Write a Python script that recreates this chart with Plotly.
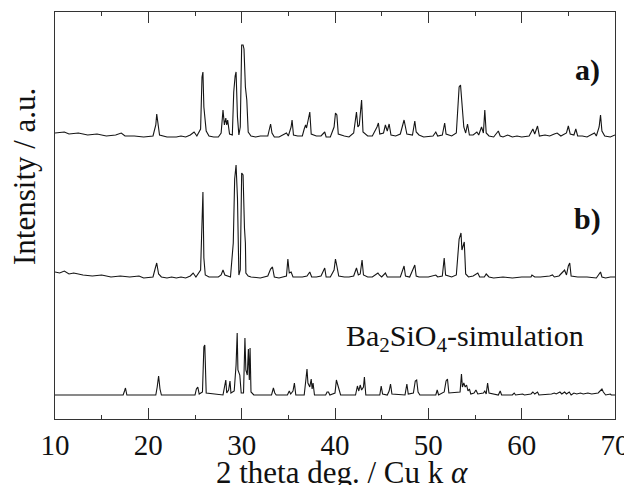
import plotly.graph_objects as go

# ---- data (2-theta in degrees, intensity in a.u.) ----
a_x = [10.0, 11.0, 11.5, 12.5, 13.5, 14.5, 15.5, 16.5, 17.1, 17.5, 18.5, 19.5, 20.5, 20.8, 20.9, 21.0, 21.2, 22.0,
       23.0, 23.5, 24.0, 24.5, 24.9, 25.2, 25.6, 25.75, 25.85, 25.95, 26.2, 26.5, 27.0, 27.5, 27.8, 28.0, 28.15,
       28.3, 28.4, 28.5, 28.7, 29.0, 29.15, 29.3, 29.4, 29.55, 29.7, 29.85, 30.0, 30.15, 30.25, 30.4, 30.55, 30.7,
       31.0, 31.5, 32.0, 32.8, 33.0, 33.1, 33.25, 33.5, 34.0, 34.5, 34.8, 35.0, 35.3, 35.4, 35.55, 36.0, 36.5,
       36.7, 36.85, 36.95, 37.1, 37.3, 37.45, 38.0, 38.5, 38.9, 39.05, 39.5, 39.9, 40.05, 40.2, 40.35, 41.0, 41.5,
       42.0, 42.3, 42.45, 42.6, 42.85, 43.0, 43.5, 44.0, 44.5, 44.65, 44.8, 45.2, 45.4, 45.6, 45.8, 46.0, 46.5,
       47.0, 47.4, 47.55, 47.7, 48.3, 48.55, 48.7, 49.0, 49.5, 50.5, 50.8, 51.0, 51.5, 51.75, 51.9, 52.5, 53.0,
       53.3, 53.45, 53.6, 53.8, 54.0, 54.2, 54.4, 54.8, 55.2, 55.4, 55.7, 55.9, 56.05, 56.2, 56.5, 57.0, 57.5,
       57.7, 58.0, 58.5, 59.0, 59.5, 60.0, 60.8, 61.2, 61.4, 61.7, 61.9, 62.5, 63.0, 63.5, 63.8, 64.2, 64.8,
       65.0, 65.2, 65.6, 65.8, 66.0, 66.5, 67.0, 67.5, 67.8, 68.0, 68.3, 68.45, 68.6, 68.9, 69.5, 70.0]
a_y = [4, 5, 3, 4, 2, 3, 1, 2, 4, 1, 1, 0, 1, 12, 23, 14, 2, 0,
       0, 1, 0, 2, 5, 1, 8, 60, 65, 30, 6, 1, 0, 0, 4, 27, 12,
       19, 12, 17, 3, 2, 45, 61, 65, 20, 2, 10, 92, 92, 88, 50, 37, 5,
       1, 0, 1, 1, 10, 13, 4, 0, 0, 2, 4, 1, 10, 17, 2, 1, 1,
       8, 12, 9, 16, 25, 3, 1, 1, 5, 0, 0, 10, 24, 22, 3, 1, 0,
       4, 25, 10, 12, 37, 5, 1, 1, 10, 14, 3, 4, 12, 6, 13, 2, 1,
       3, 17, 8, 3, 2, 16, 5, 2, 0, 1, 5, 1, 2, 14, 3, 1, 4,
       50, 52, 30, 10, 4, 13, 2, 2, 5, 2, 10, 4, 27, 4, 1, 0, 6,
       1, 0, 2, 0, 1, 0, 1, 8, 3, 11, 1, 2, 1, 3, 4, 1, 4,
       11, 3, 2, 8, 1, 1, 0, 2, 4, 1, 10, 22, 6, 1, 0, 2]

b_x = [10.0, 10.5, 11.0, 11.5, 12.0, 13.0, 14.0, 15.0, 16.0, 17.0, 18.0, 19.0, 19.5, 20.5, 20.75, 20.9, 21.1,
       21.4, 22.0, 22.5, 23.0, 23.5, 24.0, 24.5, 24.8, 25.1, 25.6, 25.75, 25.85, 25.95, 26.1, 26.5, 27.5, 27.8,
       28.0, 28.2, 28.8, 29.1, 29.25, 29.4, 29.55, 29.7, 29.85, 30.0, 30.15, 30.3, 30.4, 30.45, 30.7, 31.0, 32.0,
       32.8, 33.1, 33.3, 33.5, 34.0, 34.5, 34.8, 34.95, 35.1, 35.3, 35.5, 36.0, 36.5, 37.0, 37.3, 37.5, 38.0,
       38.5, 38.9, 39.05, 39.5, 39.9, 40.05, 40.2, 40.4, 41.0, 41.5, 42.0, 42.3, 42.5, 42.7, 42.9, 43.05, 43.5,
       44.0, 44.6, 44.75, 45.0, 45.4, 45.6, 46.0, 46.5, 47.0, 47.4, 47.55, 48.0, 48.55, 48.7, 49.0, 50.0, 50.6,
       50.8, 51.0, 51.5, 51.7, 51.85, 52.5, 53.0, 53.3, 53.5, 53.6, 53.85, 54.0, 54.3, 54.8, 55.3, 55.5, 56.0,
       56.2, 56.5, 57.0, 58.0, 59.0, 60.0, 61.0, 61.1, 61.4, 62.0, 63.0, 63.3, 63.5, 64.0, 64.3, 64.6, 64.8,
       65.0, 65.15, 65.3, 66.0, 67.0, 68.0, 68.3, 68.45, 68.6, 69.0, 69.5, 70.0]
b_y = [6, 5, 7, 4, 5, 3, 2, 3, 1, 2, 1, 2, 0, 1, 10, 15, 4,
       1, 0, 1, 0, 1, 0, 2, 5, 1, 8, 70, 86, 20, 3, 1, 1, 3,
       8, 3, 1, 35, 99, 113, 80, 3, 8, 105, 103, 50, 35, 5, 2, 1, 0,
       2, 9, 11, 1, 0, 1, 2, 19, 5, 6, 1, 1, 1, 2, 6, 1, 1,
       2, 10, 1, 1, 8, 19, 12, 2, 1, 1, 2, 10, 3, 4, 18, 3, 1,
       1, 5, 3, 1, 5, 1, 1, 1, 1, 12, 2, 1, 13, 2, 1, 1, 2,
       3, 1, 2, 20, 3, 1, 3, 39, 45, 28, 36, 4, 1, 2, 5, 1, 1,
       4, 1, 0, 1, 0, 1, 1, 3, 1, 1, 2, 3, 1, 2, 5, 8, 3,
       12, 15, 2, 1, 1, 0, 4, 6, 1, 0, 1, 1]

sim_x = [10.0, 17.3, 17.45, 17.55, 17.7, 20.8, 20.95, 21.1, 21.25, 21.4, 25.0, 25.15, 25.3, 25.45, 25.8, 25.95,
         26.05, 26.2, 28.0, 28.15, 28.3, 28.4, 28.6, 28.75, 28.85, 29.2, 29.4, 29.52, 29.6, 29.8, 29.95, 30.2,
         30.35, 30.45, 30.6, 30.72, 30.82, 30.9, 31.0, 31.3, 33.2, 33.4, 33.55, 33.7, 34.9, 35.1, 35.25, 35.5,
         35.65, 35.8, 36.7, 36.9, 37.0, 37.1, 37.3, 37.45, 37.55, 37.65, 37.8, 39.0, 39.15, 39.3, 39.45, 40.0,
         40.15, 40.3, 40.45, 40.6, 42.2, 42.4, 42.55, 42.7, 42.85, 43.05, 43.15, 43.3, 44.8, 44.95, 45.1, 45.6,
         45.8, 45.95, 46.1, 47.5, 47.7, 47.85, 48.4, 48.6, 48.75, 48.9, 49.1, 50.8, 50.95, 51.1, 51.7, 51.9,
         52.05, 52.2, 53.4, 53.55, 53.65, 53.8, 53.95, 54.1, 54.25, 54.4, 54.55, 54.9, 55.1, 55.3, 55.9, 56.05,
         56.2, 56.35, 56.5, 57.5, 57.7, 57.85, 59.0, 59.2, 59.35, 60.1, 60.3, 61.0, 61.2, 61.4, 61.7, 61.85,
         63.2, 63.5, 63.7, 64.1, 64.3, 64.6, 64.8, 65.1, 65.3, 65.6, 65.9, 66.3, 66.6, 67.1, 67.5, 68.2, 68.6,
         68.75, 69.0, 69.5, 69.6, 70.0]
sim_y = [0, 0, 4, 7, 0, 0, 8, 19, 6, 0, 0, 6, 8, 1, 3, 48,
         50, 2, 0, 10, 15, 2, 5, 14, 2, 4, 30, 62, 25, 20, 2, 2,
         57, 25, 20, 46, 15, 47, 3, 0, 0, 7, 2, 0, 0, 4, 1, 4,
         12, 0, 0, 17, 26, 12, 8, 16, 6, 12, 0, 0, 3, 3, 0, 2,
         15, 10, 5, 0, 0, 9, 4, 10, 5, 8, 18, 0, 0, 9, 1, 0,
         4, 11, 1, 0, 11, 1, 2, 14, 15, 3, 0, 0, 5, 0, 3, 14,
         16, 2, 3, 21, 8, 12, 8, 10, 4, 6, 1, 2, 5, 1, 2, 4,
         1, 12, 2, 0, 4, 0, 0, 2, 0, 1, 0, 1, 3, 1, 3, 0,
         1, 2, 1, 3, 1, 3, 1, 3, 0, 2, 1, 2, 1, 2, 1, 2, 6,
         3, 0, 1, 0, 0]

series_names = ["a)", "b)", "Ba<sub>2</sub>SiO<sub>4</sub>-simulation"]
offsets = [282, 141, 24]          # vertical stacking offsets
x_ticks = [10, 20, 30, 40, 50, 60, 70]

FONT = "Liberation Serif"
LINE = "#151515"
AX = "#333333"
TXT = "#111111"

fig = go.Figure()
for xs, ys, off, nm in [(a_x, a_y, offsets[0], "a"), (b_x, b_y, offsets[1], "b"), (sim_x, sim_y, offsets[2], "sim")]:
    fig.add_trace(go.Scatter(x=xs, y=[v + off for v in ys], mode="lines", name=nm,
                             line=dict(color=LINE, width=1.1), showlegend=False))

# the page body adds an 8px margin, so the figure is sized to the remaining window area
fig.update_layout(
    width=624, height=477,
    margin=dict(l=47, r=17, t=4, b=66, autoexpand=False),
    paper_bgcolor="white", plot_bgcolor="white",
    font=dict(family=FONT, color=TXT, size=29),
    xaxis=dict(range=[10, 70], tickvals=x_ticks, ticktext=[str(t) for t in x_ticks],
               ticks="inside", ticklen=11, tickwidth=1, tickcolor=AX, automargin=False,
               minor=dict(ticks="inside", ticklen=4, dtick=5, tick0=10, tickcolor=AX, tickwidth=1),
               showline=True, linecolor=AX, linewidth=1.2, mirror="ticks",
               showgrid=False, zeroline=False, tickfont=dict(size=29, family=FONT, color=TXT)),
    yaxis=dict(range=[0, 407], showticklabels=False, ticks="", showline=True, linecolor=AX,
               linewidth=1.2, mirror=True, showgrid=False, zeroline=False, automargin=False),
    annotations=[
        dict(text="<b>" + series_names[0] + "</b>", x=0.95, y=0.8575, xref="paper", yref="paper",
             showarrow=False, xanchor="center", yanchor="middle", font=dict(size=30, family=FONT, color=TXT)),
        dict(text="<b>" + series_names[1] + "</b>", x=0.95, y=0.491, xref="paper", yref="paper",
             showarrow=False, xanchor="center", yanchor="middle", font=dict(size=30, family=FONT, color=TXT)),
        dict(text=series_names[2], x=0.732, y=0.199, xref="paper", yref="paper", showarrow=False,
             xanchor="center", yanchor="middle", font=dict(size=30, family=FONT, color=TXT)),
        dict(text="2 theta deg. / Cu k <i>α</i>", x=0.5125, y=-0.132, xref="paper", yref="paper",
             showarrow=False, xanchor="center", yanchor="middle", font=dict(size=31, family=FONT, color=TXT)),
        dict(text="Intensity / a.u.", x=-0.0554, y=0.597, xref="paper", yref="paper", textangle=-90,
             showarrow=False, xanchor="center", yanchor="middle", font=dict(size=31, family=FONT, color=TXT)),
    ],
)

fig.write_html("out.html")
